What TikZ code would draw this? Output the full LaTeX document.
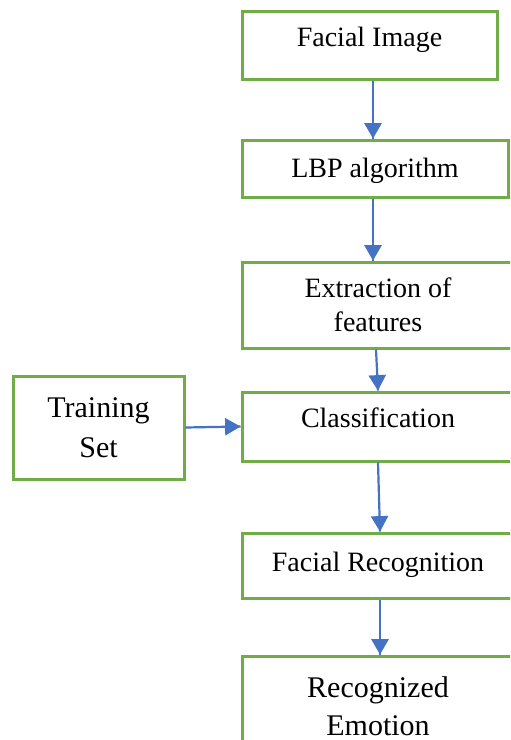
\documentclass[tikz,border=0pt]{standalone}
\usepackage{fontspec}
\setmainfont{Liberation Serif}
\usetikzlibrary{arrows}
\usetikzlibrary{decorations.markings}
\definecolor{boxgreen}{HTML}{70AD47}
\definecolor{flowblue}{HTML}{4472C4}
\tikzset{->-/.style = {decoration={markings,
                                   mark=at position #1 with {\arrow[scale=1.0]{triangle 60}}},
                       postaction={decorate}}}
\tikzset{stage/.style = {draw=boxgreen, line width=1.5pt, fill=white, align=center,
                         inner sep=0pt, font=\fontsize{14}{17}\selectfont}}
\tikzset{flow/.style = {draw=flowblue, line width=1.1pt}}

\begin{document}
\begin{tikzpicture}[x=0.5pt, y=-0.5pt]
    \clip (0, 0) rectangle (510, 740);
    \node [stage, minimum width=127.5pt, minimum height=34pt, text height=9.2pt, text depth=7.5pt] (facial) at (369.5, 45) {Facial Image};
    \node [stage, minimum width=133pt, minimum height=28.5pt, text height=9.2pt, text depth=0pt] (lbp) at (375, 168.5) {LBP algorithm};
    \node [stage, minimum width=136pt, minimum height=43pt] (extract) at (378, 305) {Extraction of\\features};
    \node [stage, minimum width=136pt, minimum height=34.5pt, text height=9.2pt, text depth=8.5pt] (classify) at (378, 426.5) {Classification};
    \node [stage, minimum width=85.5pt, minimum height=51.5pt, font=\fontsize{15}{20}\selectfont] (train) at (98.5, 427.5) {Training\\Set};
    \node [stage, minimum width=136pt, minimum height=32.5pt, text height=9.2pt, text depth=3pt] (facerec) at (378, 565.5) {Facial Recognition};
    \node [stage, minimum width=136pt, minimum height=50pt, font=\fontsize{15}{19}\selectfont] (emotion) at (378, 706) {Recognized\\Emotion};

    \draw [flow, ->-=1] ([xshift=1.75pt]facial.south) -- ([xshift=-1pt]lbp.north);
    \draw [flow, ->-=1] ([xshift=-1pt]lbp.south) -- ([xshift=-2.5pt]extract.north);
    \draw [flow, ->-=1] ([xshift=-1pt]extract.south) -- (classify.north);
    \draw [flow, ->-=1] (classify.south) -- ([xshift=1pt]facerec.north);
    \draw [flow, ->-=1] ([xshift=1pt]facerec.south) -- ([xshift=1pt]emotion.north);
    \draw [flow, ->-=1] (train.east) -- (classify.west);
\end{tikzpicture}
\end{document}
